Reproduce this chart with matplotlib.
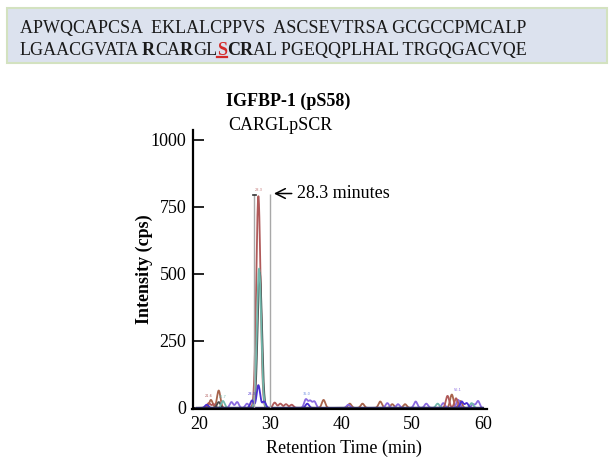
import numpy as np
import matplotlib
matplotlib.use("Agg")
import matplotlib.pyplot as plt
from matplotlib.patches import Rectangle
from matplotlib.lines import Line2D

plt.rcParams['font.family'] = ['Liberation Serif', 'DejaVu Serif']

# sequence shown in the header box
seqLine1 = "APWQCAPCSA  EKLALCPPVS  ASCSEVTRSA GCGCCPMCALP"
# (text, bold, colour, underline, spaces before)
seqLine2 = [("LGAACGVATA", False, "#1a1a1a", False, 0),
            ("R", True, "#1a1a1a", False, 1),
            ("CA", False, "#1a1a1a", False, 0),
            ("R", True, "#1a1a1a", False, 0),
            ("GL", False, "#1a1a1a", False, 0),
            ("S", True, "#d42a2a", True, 0),
            ("CR", True, "#1a1a1a", False, 0),
            ("AL PGEQQPLHAL TRGQGACVQE", False, "#1a1a1a", False, 0)]

# chromatogram traces: peak retention times (min) and heights (cps)
redRt = [28.3, 21.3, 22.0, 30.6, 31.4, 32.2, 33.0, 55.0, 56.2]
redH = [790, 18, 14, 20, 16, 14, 12, 45, 36]
tealRt = [28.4, 23.3, 53.6, 58.4]
tealH = [520, 26, 16, 18]
greyRt = [28.5, 22.7]
greyH = [505, 22]
blueRt = [28.3, 27.4, 29.1, 21.0, 35.2, 57.0, 57.7]
blueH = [85, 28, 24, 12, 16, 24, 18]
purpleRt = [24.5, 25.3, 26.7, 35.0, 35.6, 36.2, 41.0, 46.5, 48.0, 50.5, 52.0, 54.4, 56.5, 58.6, 59.3]
purpleH = [22, 22, 16, 32, 26, 24, 12, 18, 14, 24, 16, 18, 30, 14, 26]
orangeRt = [22.7, 21.6, 37.5, 41.2, 43.0, 45.5, 47.2, 49.0, 55.6, 56.8]
orangeH = [65, 30, 30, 16, 16, 24, 14, 14, 50, 26]

traces = [(orangeRt, orangeH, "#a8644c"),
          (purpleRt, purpleH, "#8a6ae0"),
          (redRt, redH, "#b05a5a"),
          (greyRt, greyH, "#4a4a4a"),
          (tealRt, tealH, "#72b8ac"),
          (blueRt, blueH, "#4a2fd0")]

peakLabels = [(28.3, 805, "28.3", "#c07070"), (21.3, 36, "21.6", "#b05a5a"),
              (23.2, 32, "22.7", "#72b8ac"), (27.3, 45, "28.3", "#4a2fd0"),
              (35.1, 45, "35.0", "#6a8ae0"), (56.4, 60, "56.1", "#8a6ae0")]

windowStart = 27.7
windowEnd = 29.9
windowTop = 800

fig = plt.figure(figsize=(6.16, 4.65), dpi=100)
W, H = 616.0, 465.0

# header box
fig.add_artist(Rectangle((7 / W, 1 - 63 / H), 600 / W, 55 / H, transform=fig.transFigure,
                         facecolor="#dce2ee", edgecolor="#d3e2c0", linewidth=1.5))
fig.text(20 / W, 1 - 33 / H, seqLine1, fontsize=13, va="baseline", color="#1a1a1a")

renderer = fig.canvas.get_renderer()
probeA = fig.text(0, 0, "AA", fontsize=13)
probeB = fig.text(0, 0, "A A", fontsize=13)
spaceW = probeB.get_window_extent(renderer).width - probeA.get_window_extent(renderer).width
probeA.remove()
probeB.remove()

xPos = 20.0
yLine2 = 1 - 55 / H
for text, bold, color, underline, gap in seqLine2:
    xPos += gap * spaceW
    t = fig.text(xPos / W, yLine2, text, fontsize=13, va="baseline", color=color,
                 fontweight="bold" if bold else "normal")
    bb = t.get_window_extent(renderer)
    if underline:
        fig.add_artist(Line2D([bb.x0 / W, bb.x1 / W], [1 - 57 / H, 1 - 57 / H],
                              transform=fig.transFigure, color=color, linewidth=1.6))
    xPos = bb.x1

# chromatogram
ax = fig.add_axes([192.5 / W, 56 / H, 294 / W, 279 / H])
rt = np.linspace(19.6, 60, 3000)
for peakRt, peakH, color in traces:
    signal = np.zeros_like(rt)
    for r, h in zip(peakRt, peakH):
        sigma = 0.3 if h > 300 else 0.24
        signal += h * np.exp(-0.5 * ((rt - r) / sigma) ** 2)
    ax.plot(rt, signal, color=color, linewidth=1.3)
ax.plot(rt, np.zeros_like(rt), color="#2a2a5a", linewidth=1.6)

for x, y, s, c in peakLabels:
    ax.text(x, y, s, fontsize=2.5, color=c, ha="center", va="bottom", family="DejaVu Sans")

ax.vlines([windowStart, windowEnd], 0, windowTop, color="#a8a8a8", linewidth=1.0)
ax.plot([windowStart - 0.15, windowStart + 0.2], [windowTop - 5, windowTop - 5], color="#333333", linewidth=1.2)

ax.annotate("", xy=(30.1, windowTop), xytext=(33.4, windowTop),
            arrowprops=dict(arrowstyle="->,head_length=0.7,head_width=0.35", color="black", linewidth=1.1))
ax.text(33.8, windowTop, "28.3 minutes", fontsize=13, va="center", ha="left")

ax.set_xlim(19, 60.5)
ax.set_ylim(-4, 1037)
ax.set_xticks([20, 30, 40, 50, 60])
ax.set_yticks([0, 250, 500, 750, 1000])
ax.tick_params(axis="x", length=0, pad=5, labelsize=13)
ax.tick_params(axis="y", direction="in", length=8, width=1.2, pad=4.5, labelsize=13)
for side in ["top", "right"]:
    ax.spines[side].set_visible(False)
for side in ["left", "bottom"]:
    ax.spines[side].set_linewidth(1.6)
ax.patch.set_alpha(0)

ax.set_xlabel("Retention Time (min)", fontsize=13)
ax.xaxis.set_label_coords(0.515, -0.11)
ax.xaxis.label.set_va("top")
ax.set_ylabel("Intensity (cps)", fontsize=13, fontweight="bold")
ax.yaxis.set_label_coords(-0.135, 0.5)

fig.text(288 / W, 1 - 106 / H, "IGFBP-1 (pS58)", fontsize=13, fontweight="bold", ha="center", va="baseline")
fig.text(280 / W, 1 - 130 / H, "CARGLpSCR", fontsize=13, ha="center", va="baseline")

fig.savefig("out.png", dpi=100)
